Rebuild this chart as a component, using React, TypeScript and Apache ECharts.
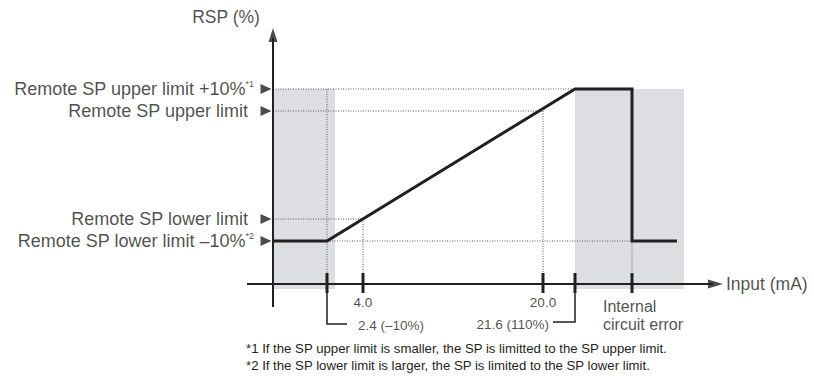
import React, { useEffect, useRef } from "react";
import * as echarts from "echarts";

// Schematic diagram units: x = distance right of the RSP axis, y = height above the Input axis
const rspLevels = [195, 173, 65, 43];
const levelLabels = [
  "Remote SP upper limit +10%",
  "Remote SP upper limit",
  "Remote SP lower limit",
  "Remote SP lower limit \u201310%",
];
const levelNotes = ["*1", "", "", "*2"];

const inputTickPos = [54, 90, 270, 302, 359];
const inputTickLabels = ["2.4 (\u201310%)", "4.0", "20.0", "21.6 (110%)", "Internal\ncircuit error"];
const tickLabelAnchors = [
  [85, -41],
  [90, -18],
  [270, -18],
  [276, -40],
  [330, -31],
];
const tickLabelAligns = ["left", "center", "center", "right", "left"];

const rspCurveX = [0, 54, 302, 359, 359, 404];
const rspCurveY = [43, 43, 195, 195, 43, 43];

const shadedRanges = [
  [0, 62],
  [302, 411],
];
const shadeBottom = -5;
const shadeTop = 195;

const footnotes = [
  "*1 If the SP upper limit is smaller, the SP is limitted to the SP upper limit.",
  "*2 If the SP lower limit is larger, the SP is limited to the SP lower limit.",
];

const INK = "#231f20";
const FONT = "'Liberation Sans', Arial, Helvetica, sans-serif";

function seg(points: number[][], lineStyle: any, z = 3) {
  return {
    type: "line",
    data: points,
    symbol: "none",
    silent: true,
    z,
    lineStyle: { cap: "butt", join: "miter", ...lineStyle },
  };
}

export default function App() {
  const ref = useRef<HTMLDivElement>(null);

  useEffect(() => {
    document.body.style.margin = "0";
    const chart = echarts.init(ref.current!, undefined, { renderer: "svg" });

    const dotted = { width: 1, color: "#5a5a5a", type: [1, 1.5] };
    const guides = [
      [[0, rspLevels[0]], [inputTickPos[3], rspLevels[0]]],
      [[0, rspLevels[1]], [inputTickPos[2], rspLevels[1]]],
      [[0, rspLevels[2]], [inputTickPos[1], rspLevels[2]]],
      [[inputTickPos[0], rspLevels[3]], [inputTickPos[4], rspLevels[3]]],
      [[inputTickPos[0], rspLevels[0]], [inputTickPos[0], 11]],
      [[inputTickPos[1], rspLevels[2]], [inputTickPos[1], 11]],
      [[inputTickPos[2], rspLevels[1]], [inputTickPos[2], 11]],
      [[inputTickPos[4], rspLevels[3]], [inputTickPos[4], 11]],
    ];

    const series: any[] = [];

    series.push({
      type: "custom",
      silent: true,
      z: 0,
      data: shadedRanges.map(([a, b]) => [a, b, shadeBottom, shadeTop]),
      encode: { x: [0, 1], y: [2, 3] },
      renderItem: (_p: any, api: any) => {
        const p0 = api.coord([api.value(0), api.value(3)]);
        const p1 = api.coord([api.value(1), api.value(2)]);
        return {
          type: "rect",
          shape: { x: p0[0], y: p0[1], width: p1[0] - p0[0], height: p1[1] - p0[1] },
          style: { fill: "#dcdee2" },
        };
      },
    });

    guides.forEach((g) => series.push(seg(g, dotted, 2)));

    // axes
    series.push(seg([[-26, 0], [440, 0]], { width: 2, color: INK }, 4));
    series.push(seg([[0, -23], [0, 246]], { width: 2, color: INK }, 4));
    series.push({
      type: "scatter",
      silent: true,
      z: 5,
      data: [
        { value: [442.5, 0], symbol: "path://M0,0L15,4.5L0,9Z", symbolSize: [15, 9] },
        { value: [0, 249], symbol: "path://M4.5,0L9,14L0,14Z", symbolSize: [9, 14] },
      ],
      itemStyle: { color: INK },
    });

    // ticks
    inputTickPos.forEach((x) => series.push(seg([[x, 11], [x, -9]], { width: 3, color: INK }, 4)));
    // brackets
    series.push(seg([[inputTickPos[0], -9], [inputTickPos[0], -40], [74, -40]], { width: 1.5, color: INK }, 4));
    series.push(seg([[inputTickPos[3], -9], [inputTickPos[3], -38], [280, -38]], { width: 1.5, color: INK }, 4));

    // main curve
    series.push({
      type: "line",
      data: rspCurveX.map((x, i) => [x, rspCurveY[i]]),
      symbol: "none",
      silent: true,
      z: 6,
      lineStyle: { width: 3, color: INK, join: "miter", cap: "butt" },
    });

    // level markers
    series.push({
      type: "scatter",
      silent: true,
      z: 6,
      symbol: "path://M0,0L11,5L0,10Z",
      symbolSize: [11, 10],
      itemStyle: { color: INK },
      data: rspLevels.map((y, i) => ({
        value: [-7, y],
        label: { distance: levelNotes[i] ? 6.5 : 12.5 },
      })),
      label: {
        show: true,
        position: "left",
        color: INK,
        fontFamily: FONT,
        formatter: (p: any) =>
          `{m|${levelLabels[p.dataIndex]}}` + (levelNotes[p.dataIndex] ? `{s|${levelNotes[p.dataIndex]}}` : ""),
        rich: {
          m: { fontSize: 18, lineHeight: 20, color: INK, fontFamily: FONT },
          s: { fontSize: 9, lineHeight: 20, verticalAlign: "top", color: INK, fontFamily: FONT },
        },
      },
    });

    // tick labels
    series.push({
      type: "scatter",
      silent: true,
      z: 6,
      symbolSize: 1,
      itemStyle: { color: "rgba(0,0,0,0)" },
      data: tickLabelAnchors.map((a, i) => ({
        value: a,
        label: {
          align: tickLabelAligns[i],
          fontSize: i === 4 ? 16 : 13.5,
          lineHeight: i === 4 ? 18 : 16,
        },
      })),
      label: {
        show: true,
        position: "inside",
        verticalAlign: "middle",
        color: INK,
        fontFamily: FONT,
        formatter: (p: any) => inputTickLabels[p.dataIndex],
      },
    });

    // axis names
    series.push({
      type: "scatter",
      silent: true,
      z: 6,
      symbolSize: 1,
      itemStyle: { color: "rgba(0,0,0,0)" },
      data: [
        { value: [-47, 267], name: "RSP (%)", label: { align: "center" } },
        { value: [453, 0], name: "Input (mA)", label: { align: "left" } },
      ],
      label: {
        show: true,
        position: "inside",
        verticalAlign: "middle",
        color: INK,
        fontSize: 17.5,
        fontFamily: FONT,
        formatter: (p: any) => p.name,
      },
    });

    chart.setOption({
      animation: false,
      grid: { left: 0, right: 0, top: 0, bottom: 0 },
      xAxis: { type: "value", min: -273, max: 541, show: false },
      yAxis: { type: "value", min: -92, max: 284, show: false },
      graphic: footnotes.map((t, i) => ({
        type: "text",
        left: 246,
        top: 342 + i * 17,
        style: { text: t, fill: INK, fontSize: 13.2, fontFamily: FONT },
      })),
      series,
    });

    return () => chart.dispose();
  }, []);

  return <div ref={ref} style={{ width: 814, height: 376 }} />;
}
